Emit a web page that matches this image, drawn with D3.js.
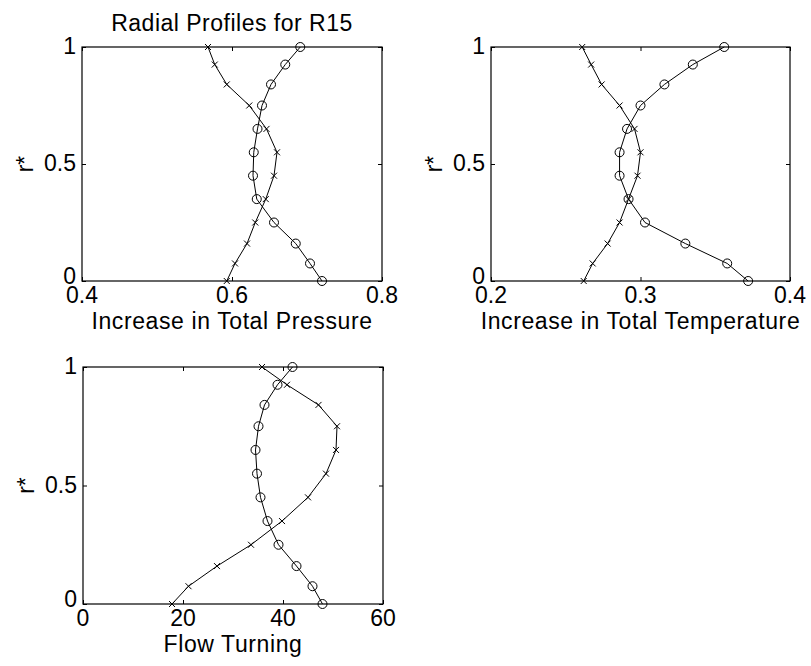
<!DOCTYPE html>
<html>
<head>
<meta charset="utf-8">
<script src="https://cdn.jsdelivr.net/npm/d3@7"></script>
<style>
  body { margin: 0; background: #fff; }
  text { font-family: "Liberation Sans", Arial, Helvetica, sans-serif; fill: #000; }
</style>
</head>
<body>
<script>
// radial stations (r*), shared by every profile
var rStar = [0, 0.075, 0.16, 0.25, 0.35, 0.45, 0.55, 0.65, 0.75, 0.84, 0.925, 1];

// increase in total pressure
var pressureCircle = [0.720, 0.704, 0.685, 0.656, 0.633, 0.628, 0.629, 0.634, 0.640, 0.652, 0.671, 0.691];
var pressureCross  = [0.593, 0.604, 0.620, 0.631, 0.645, 0.656, 0.660, 0.646, 0.623, 0.593, 0.577, 0.568];

// increase in total temperature
var tempCircle = [0.372, 0.358, 0.330, 0.303, 0.292, 0.286, 0.286, 0.291, 0.300, 0.316, 0.335, 0.356];
var tempCross  = [0.262, 0.268, 0.278, 0.286, 0.292, 0.298, 0.300, 0.296, 0.286, 0.274, 0.267, 0.261];

// flow turning
var turnCircle = [47.9, 45.9, 42.7, 39.1, 36.9, 35.5, 34.8, 34.5, 35.1, 36.3, 38.9, 41.9];
var turnCross  = [17.8, 21.1, 26.8, 33.6, 39.8, 45.0, 48.6, 50.6, 50.8, 47.1, 40.8, 35.8];

var pressureTicks = [0.4, 0.6, 0.8];
var tempTicks = [0.2, 0.3, 0.4];
var turnTicks = [0, 20, 40, 60];
var rTicks = [0, 0.5, 1];

var titleText = "Radial Profiles for R15";

var W = 811, H = 666;
var svg = d3.select("body").append("svg")
  .attr("width", W)
  .attr("height", H);

var fontSize = 23;

function panel(box, xDomain, xTicks, xLabel, circleVals, crossVals) {
  var x = d3.scaleLinear().domain(xDomain).range([box.left, box.right]);
  var y = d3.scaleLinear().domain([0, 1]).range([box.bottom, box.top]);
  var g = svg.append("g");

  var tickLen = 4;

  // inward ticks on all four sides
  var xAxisB = d3.axisBottom(x).tickValues(xTicks).tickSize(-tickLen).tickFormat("");
  var xAxisT = d3.axisTop(x).tickValues(xTicks).tickSize(-tickLen).tickFormat("");
  var yAxisL = d3.axisLeft(y).tickValues(rTicks).tickSize(-tickLen).tickFormat("");
  var yAxisR = d3.axisRight(y).tickValues(rTicks).tickSize(-tickLen).tickFormat("");

  g.append("g").attr("transform", "translate(0," + box.bottom + ")").call(xAxisB);
  g.append("g").attr("transform", "translate(0," + box.top + ")").call(xAxisT);
  g.append("g").attr("transform", "translate(" + box.left + ",0)").call(yAxisL);
  g.append("g").attr("transform", "translate(" + box.right + ",0)").call(yAxisR);
  g.selectAll(".domain").remove();
  g.selectAll(".tick line").attr("stroke", "#000").attr("stroke-width", 1);

  // frame
  g.append("rect")
    .attr("x", box.left)
    .attr("y", box.top)
    .attr("width", box.right - box.left)
    .attr("height", box.bottom - box.top)
    .attr("fill", "none")
    .attr("stroke", "#000")
    .attr("stroke-width", 1.2);

  // tick labels
  g.selectAll(".xlab")
    .data(xTicks)
    .enter().append("text")
    .attr("x", function(d) { return x(d); })
    .attr("y", box.bottom + 22)
    .attr("text-anchor", "middle")
    .style("font-size", fontSize + "px")
    .text(function(d) { return d; });

  g.selectAll(".ylab")
    .data(rTicks)
    .enter().append("text")
    .attr("x", box.left - 6)
    .attr("y", function(d) { return y(d) + (d === 0 ? 3 : 7); })
    .attr("text-anchor", "end")
    .style("font-size", fontSize + "px")
    .text(function(d) { return d; });

  // axis titles
  g.append("text")
    .attr("x", (box.left + box.right) / 2)
    .attr("y", box.bottom + 48)
    .attr("text-anchor", "middle")
    .style("font-size", fontSize + "px")
    .style("letter-spacing", "0.6px")
    .text(xLabel);

  g.append("text")
    .attr("transform", "translate(" + (box.left - 49) + "," + ((box.top + box.bottom) / 2) + ") rotate(-90)")
    .attr("text-anchor", "middle")
    .style("font-size", fontSize + "px")
    .text("r*");

  var line = d3.line()
    .x(function(d) { return x(d[0]); })
    .y(function(d) { return y(d[1]); });

  var circlePts = circleVals.map(function(v, i) { return [v, rStar[i]]; });
  var crossPts = crossVals.map(function(v, i) { return [v, rStar[i]]; });

  [circlePts, crossPts].forEach(function(pts) {
    g.append("path")
      .attr("d", line(pts))
      .attr("fill", "none")
      .attr("stroke", "#000")
      .attr("stroke-width", 1);
  });

  g.selectAll(".circ")
    .data(circlePts)
    .enter().append("circle")
    .attr("cx", function(d) { return x(d[0]); })
    .attr("cy", function(d) { return y(d[1]); })
    .attr("r", 4.5)
    .attr("fill", "none")
    .attr("stroke", "#000")
    .attr("stroke-width", 1);

  var s = 3;
  g.selectAll(".cross")
    .data(crossPts)
    .enter().append("path")
    .attr("d", function(d) {
      var cx = x(d[0]), cy = y(d[1]);
      return "M" + (cx - s) + "," + (cy - s) + "L" + (cx + s) + "," + (cy + s) +
             "M" + (cx - s) + "," + (cy + s) + "L" + (cx + s) + "," + (cy - s);
    })
    .attr("stroke", "#000")
    .attr("stroke-width", 1);

  return g;
}

panel({left: 82, right: 382, top: 47, bottom: 281}, [0.4, 0.8], pressureTicks,
  "Increase in Total Pressure", pressureCircle, pressureCross);
panel({left: 491, right: 790, top: 47, bottom: 281}, [0.2, 0.4], tempTicks,
  "Increase in Total Temperature", tempCircle, tempCross);
panel({left: 83, right: 383, top: 367, bottom: 604}, [0, 60], turnTicks,
  "Flow Turning", turnCircle, turnCross);

svg.append("text")
  .attr("x", 232)
  .attr("y", 31)
  .attr("text-anchor", "middle")
  .style("font-size", fontSize + "px")
  .style("letter-spacing", "0.5px")
  .text(titleText);
</script>
</body>
</html>
